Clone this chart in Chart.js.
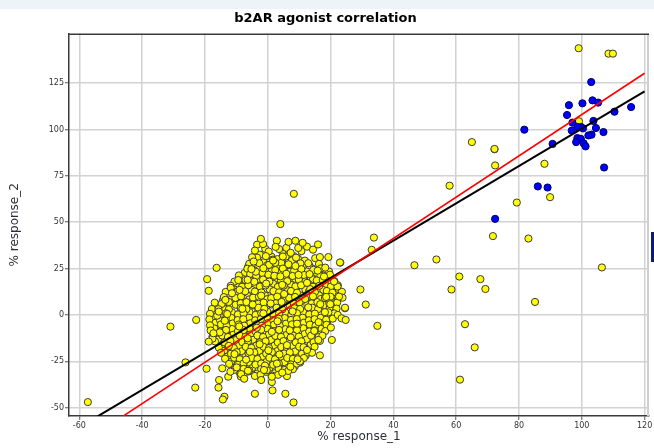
<!DOCTYPE html>
<html>
<head>
<meta charset="utf-8">
<script src="https://cdn.jsdelivr.net/npm/chart.js@4/dist/chart.umd.min.js"></script>
<style>
  html, body { margin: 0; padding: 0; background: #ffffff; }
  #wrap { position: relative; width: 654px; height: 448px; overflow: hidden; }
  #band { position: absolute; left: 0; top: 0; width: 654px; height: 9px; background: #eef3f9; }
  #sidebar { position: absolute; left: 651px; top: 232px; width: 3px; height: 30px; background: #0b1a72; }
  canvas { position: absolute; left: 0; top: 0; }
</style>
</head>
<body>
<div id="wrap">
  <div id="band"></div>
  <canvas id="c" width="654" height="448"></canvas>
  <div id="sidebar"></div>
</div>
<script>
// ---------- data ----------
const chartTitle = 'b2AR agonist correlation';
const xTitle = '% response_1';
const yTitle = '% response_2';
const xTicks = [-60, -40, -20, 0, 20, 40, 60, 80, 100, 120];
const yTicks = [-50, -25, 0, 25, 50, 75, 100, 125];
const xRange = [-63.3, 121.4];
const yRange = [-54.5, 151.7];

// regression lines (end points)
const blackLine = [[-54.2, -54.7], [120, 120.5]];
const redLine = [[-46.2, -54.7], [120, 130.3]];

// blue points (agonist reference set)
const bluePoints = [
  [103.0,125.6],[95.9,113.1],[100.2,114.1],[103.4,115.7],[105.2,114.5],[95.3,107.8],
  [115.7,112.1],[110.4,109.6],[97.0,103.7],[103.7,104.6],[99.8,101.3],[98.6,101.3],
  [96.8,99.4],[100.4,100.6],[104.5,100.8],[106.9,98.6],[103.1,97.2],[102.1,96.8],
  [98.6,95.4],[99.7,94.9],[98.2,93.2],[100.6,92.5],[101.2,90.9],[90.7,92.2],
  [81.7,99.9],[107.1,79.5],[86.0,69.3],[89.1,68.7],[72.4,51.8]
];

// red points
const redPoints = [[18.0,-6.3],[-5.3,-24.7],[-11.7,-9.0]];

// yellow points: dense cluster, first layer
const yellowCluster = [
  [-2.5,32.5],[1.2,31.4],[4.8,33.1],[8.2,31.8],
  [-4.6,29.2],[-1.3,28.4],[1.6,29.8],[4.5,28.9],[7.7,29.4],[10.4,28.1],
  [-6.2,26.3],[-3.1,25.6],[-0.2,26.8],[2.9,25.9],[5.7,26.6],[8.6,25.4],[11.3,26.2],[14.1,25.1],
  [-7.4,22.6],[-4.7,23.5],[-1.8,22.4],[1.3,23.6],[4.2,22.8],[7.1,23.3],[9.9,22.5],[12.8,23.8],[15.6,22.7],[17.2,21.6],
  [-8.3,19.8],[-5.6,20.7],[-2.9,19.4],[0.1,20.5],[3.0,19.6],[5.8,20.9],[8.7,19.5],[11.5,20.3],[14.4,19.2],[17.3,20.1],
  [-9.5,16.6],[-6.8,17.4],[-4.0,16.3],[-1.2,17.6],[1.7,16.8],[4.6,17.3],[7.4,16.2],[10.2,17.5],[13.1,16.5],[15.9,17.7],[18.6,16.4],[20.3,17.2],
  [-10.6,13.7],[-7.9,14.5],[-5.1,13.5],[-2.3,14.6],[0.6,13.8],[3.5,14.4],[6.3,13.3],[9.1,14.7],[12.0,13.6],[14.8,14.2],[17.7,13.4],[20.4,14.5],[22.0,13.2],
  [-12.2,10.8],[-9.4,11.6],[-6.6,10.6],[-3.8,11.4],[-0.9,10.5],[2.0,11.7],[4.9,10.7],[7.7,11.5],[10.6,10.4],[13.4,11.3],[16.3,10.6],[19.1,11.6],[21.8,10.5],
  [-14.3,7.7],[-11.5,8.6],[-8.7,7.5],[-5.9,8.4],[-3.1,7.6],[-0.2,8.5],[2.7,7.4],[5.5,8.7],[8.4,7.8],[11.2,8.3],[14.1,7.3],[16.9,8.6],[19.7,7.6],[22.3,8.4],
  [-15.8,5.3],[-13.0,4.6],[-10.2,5.5],[-7.4,4.4],[-4.5,5.2],[-1.7,4.7],[1.2,5.6],[4.0,4.5],[6.9,5.4],[9.7,4.3],[12.6,5.5],[15.4,4.6],[18.2,5.3],[20.8,4.4],
  [-16.9,1.6],[-14.2,2.5],[-11.4,1.4],[-8.6,2.3],[-5.8,1.5],[-3.0,2.6],[-0.1,1.7],[2.8,2.4],[5.6,1.3],[8.5,2.5],[11.3,1.6],[14.2,2.7],[17.0,1.5],[19.6,2.3],
  [-17.2,-1.4],[-14.4,-0.6],[-11.6,-1.6],[-8.8,-0.7],[-6.0,-1.5],[-3.2,-0.5],[-0.3,-1.3],[2.6,-0.4],[5.4,-1.7],[8.3,-0.8],[11.1,-1.5],[14.0,-0.5],[16.8,-1.6],[19.4,-0.7],
  [-16.8,-4.3],[-14.0,-3.5],[-11.2,-4.6],[-8.4,-3.7],[-5.6,-4.5],[-2.8,-3.4],[0.1,-4.4],[3.0,-3.6],[5.8,-4.7],[8.7,-3.8],[11.5,-4.2],[14.4,-3.3],[17.1,-4.5],[18.9,-3.6],
  [-17.0,-7.3],[-14.2,-6.5],[-11.4,-7.6],[-8.6,-6.7],[-5.8,-7.4],[-3.0,-6.4],[-0.1,-7.5],[2.8,-6.6],[5.6,-7.7],[8.5,-6.8],[11.3,-7.2],[14.2,-6.3],[16.9,-7.5],
  [-16.6,-10.4],[-13.8,-9.6],[-11.0,-10.7],[-8.2,-9.7],[-5.4,-10.5],[-2.6,-9.5],[0.3,-10.6],[3.2,-9.7],[6.0,-10.8],[8.9,-9.9],[11.7,-10.3],[14.6,-9.4],[16.8,-10.6],
  [-15.9,-13.3],[-13.1,-12.5],[-10.3,-13.6],[-7.5,-12.7],[-4.7,-13.4],[-1.9,-12.4],[1.0,-13.5],[3.9,-12.6],[6.7,-13.7],[9.6,-12.8],[12.4,-13.2],[15.3,-12.4],
  [-14.8,-16.4],[-12.0,-15.6],[-9.2,-16.7],[-6.4,-15.7],[-3.6,-16.5],[-0.8,-15.5],[2.1,-16.6],[5.0,-15.7],[7.8,-16.8],[10.7,-15.9],[13.6,-16.3],
  [-13.9,-19.3],[-11.1,-18.5],[-8.3,-19.6],[-5.5,-18.7],[-2.7,-19.4],[0.1,-18.4],[3.0,-19.5],[5.9,-18.6],[8.7,-19.7],[11.6,-18.8],[13.2,-19.9],
  [-12.8,-22.4],[-10.0,-21.6],[-7.2,-22.7],[-4.4,-21.7],[-1.6,-22.5],[1.3,-21.5],[4.2,-22.6],[7.0,-21.7],[9.9,-22.8],[12.1,-21.9],
  [-11.7,-25.3],[-8.9,-24.5],[-6.1,-25.6],[-3.3,-24.7],[-0.5,-25.4],[2.4,-24.4],[5.3,-25.5],[8.1,-24.6],[10.3,-25.7],
  [-10.6,-28.4],[-7.8,-27.6],[-5.0,-28.7],[-2.2,-27.7],[0.6,-28.5],[3.5,-27.5],[6.4,-28.6],[8.6,-27.8],
  [-8.9,-31.3],[-6.1,-30.5],[-3.3,-31.6],[-0.5,-30.7],[2.3,-31.4],[5.1,-30.6]
];

// yellow points: dense cluster, second layer
const yellowClusterB = [
  [-0.8,35.6],[5.9,36.2],[10.7,34.4],[-3.4,37.9],[12.5,36.8],[0.3,34.2],[3.6,35.5],[-1.5,38.2],[9.7,36.1],[14.4,35.2],[11.1,38.9],
  [-3.4,30.9],[-0.6,31.7],[3.1,30.1],[5.7,31.5],[9.6,30.4],[11.8,29.3],[15.1,30.6],
  [-5.9,27.6],[-2.7,27.9],[0.4,27.0],[4.3,28.1],[6.6,27.3],[10.4,27.8],[13.2,26.8],[16.3,27.5],
  [-6.5,24.9],[-4.3,24.0],[-1.4,25.2],[2.4,24.2],[4.8,25.0],[8.4,23.9],[10.7,24.7],[14.5,24.3],[16.9,25.1],[19.5,23.4],
  [-9.2,21.3],[-5.6,22.1],[-3.7,21.0],[0.2,21.7],[2.1,21.1],[5.9,22.2],[7.9,21.0],[11.6,21.5],[13.3,22.0],[16.8,21.2],[19.8,21.7],
  [-10.6,18.0],[-7.1,18.8],[-5.3,18.3],[-1.5,19.1],[0.5,18.0],[4.2,18.7],[6.2,18.2],[9.9,18.9],[12.0,18.0],[15.6,18.6],[17.5,18.9],[21.2,18.2],
  [-11.8,15.7],[-8.2,15.2],[-6.2,16.0],[-2.5,15.3],[-0.7,15.9],[3.2,15.1],[5.1,15.8],[8.8,15.4],[10.6,16.0],[14.4,15.2],[16.4,15.7],[20.1,15.3],[22.3,16.0],
  [-13.4,12.4],[-9.6,12.8],[-7.8,12.0],[-4.1,12.6],[-2.0,12.1],[1.8,12.8],[3.6,12.2],[7.4,12.9],[9.3,12.0],[13.1,12.6],[15.0,12.3],[18.8,12.9],[20.6,12.0],[23.6,12.5],
  [-14.0,9.6],[-10.3,9.2],[-8.5,10.0],[-4.7,9.3],[-2.8,9.8],[1.1,9.1],[3.0,9.9],[6.8,9.2],[8.7,9.7],[12.5,9.4],[14.4,10.0],[18.2,9.1],[20.0,9.8],[23.8,9.3],
  [-16.9,6.6],[-14.1,6.0],[-12.4,7.0],[-8.6,6.3],[-6.8,6.9],[-3.0,6.0],[-1.3,6.7],[2.6,6.3],[4.4,7.0],[8.3,6.1],[10.1,6.8],[14.0,6.2],[15.8,6.9],[19.6,6.3],[22.1,6.7],
  [-17.8,3.2],[-14.2,3.8],[-12.4,3.0],[-8.6,3.7],[-6.8,3.1],[-3.0,3.9],[-1.1,3.3],[2.8,3.9],[4.6,3.0],[8.5,3.6],[10.3,3.2],[14.2,3.9],[16.0,3.1],[19.7,3.7],[21.9,3.4],
  [-18.4,0.6],[-15.1,0.1],[-13.3,0.9],[-9.5,0.3],[-7.7,0.8],[-3.9,0.0],[-2.1,0.9],[1.8,0.4],[3.6,0.8],[7.5,0.1],[9.3,0.9],[13.2,0.3],[15.0,0.7],[18.8,0.0],[21.1,0.8],
  [-18.6,-2.4],[-15.2,-2.9],[-13.4,-2.1],[-9.6,-2.8],[-7.8,-2.3],[-4.0,-2.9],[-2.2,-2.2],[1.7,-2.8],[3.5,-2.1],[7.4,-2.7],[9.2,-2.2],[13.1,-2.9],[14.9,-2.3],[18.6,-2.6],[20.7,-2.0],
  [-18.4,-5.6],[-14.9,-5.1],[-13.1,-5.9],[-9.3,-5.2],[-7.5,-5.8],[-3.7,-5.1],[-1.9,-5.9],[2.0,-5.2],[3.8,-5.8],[7.7,-5.1],[9.5,-5.7],[13.4,-5.2],[15.2,-5.9],[18.7,-5.3],
  [-18.2,-8.4],[-15.1,-8.9],[-13.3,-8.1],[-9.5,-8.8],[-7.7,-8.2],[-3.9,-8.9],[-2.1,-8.0],[1.8,-8.7],[3.6,-8.1],[7.5,-8.8],[9.3,-8.2],[13.2,-8.9],[15.0,-8.3],[18.3,-8.7],
  [-17.6,-11.6],[-14.5,-11.1],[-12.7,-11.9],[-8.9,-11.2],[-7.1,-11.8],[-3.3,-11.1],[-1.5,-11.9],[2.4,-11.3],[4.2,-11.8],[8.1,-11.1],[9.9,-11.7],[13.8,-11.2],[16.2,-11.9],
  [-16.8,-14.3],[-13.7,-14.9],[-11.9,-14.0],[-8.1,-14.7],[-6.3,-14.1],[-2.5,-14.8],[-0.7,-14.2],[3.2,-14.9],[5.0,-14.1],[8.9,-14.8],[10.7,-14.2],[14.6,-14.7],[16.6,-14.0],
  [-15.6,-17.6],[-12.6,-17.1],[-10.8,-17.9],[-7.0,-17.2],[-5.2,-17.8],[-1.4,-17.1],[0.4,-17.9],[4.3,-17.3],[6.1,-17.8],[10.0,-17.1],[11.8,-17.7],[14.9,-17.2],
  [-14.9,-20.4],[-11.7,-20.9],[-9.9,-20.1],[-6.1,-20.8],[-4.3,-20.2],[-0.5,-20.9],[1.3,-20.1],[5.2,-20.8],[7.0,-20.2],[10.9,-20.9],[12.7,-20.3],
  [-13.6,-23.6],[-10.7,-23.1],[-8.9,-23.9],[-5.1,-23.2],[-3.3,-23.8],[0.5,-23.1],[2.3,-23.9],[6.2,-23.2],[8.0,-23.7],[11.5,-23.2],
  [-12.3,-26.4],[-9.5,-26.9],[-7.7,-26.1],[-3.9,-26.8],[-2.1,-26.2],[1.7,-26.9],[3.5,-26.1],[7.4,-26.7],[9.2,-26.3],
  [-10.6,-29.6],[-7.7,-29.1],[-5.9,-29.9],[-2.1,-29.2],[-0.3,-29.8],[3.5,-29.1],[5.3,-29.7],[8.0,-29.3],
  [-7.7,-32.4],[-4.1,-32.9],[-2.3,-32.2],[1.5,-32.8],[3.3,-32.3],[6.1,-33.0]
];

// yellow points: dense cluster, irregular top layer
const yellowClusterC = [
  [3.7,-21.3],[-9.1,-6.2],[12.9,4.1],[-4.3,17.9],[7.3,-12.1],[-13.7,-3.1],[0.9,6.2],[16.2,-3.9],
  [-6.9,-24.1],[9.8,21.6],[-2.6,-15.8],[5.2,11.3],[-15.3,-9.4],[18.6,9.7],[-0.9,-27.3],[11.4,-17.4],
  [-8.1,3.3],[2.4,28.1],[14.8,-8.6],[-5.7,-19.9],[7.9,1.9],[-11.8,14.6],[1.3,-9.1],[-3.8,23.3],
  [10.2,-25.1],[-16.1,-0.4],[4.6,16.2],[-9.9,-28.3],[13.5,13.9],[-1.4,0.8],[6.5,-30.2],[-12.4,-16.7],
  [20.1,-6.8],[-7.2,12.7],[3.1,-3.4],[8.8,26.4],[-14.7,5.9],[-3.5,-6.9],[15.9,23.9],[0.2,-19.1],
  [-10.6,-21.1],[11.9,8.6],[-5.0,31.1],[6.1,-16.3],[-17.6,-12.8],[17.4,-11.2],[-2.1,10.4],[9.3,-4.7],
  [-8.6,-33.2],[4.0,20.8],[-12.9,0.5],[14.1,-20.4],[-0.5,16.9],[7.0,-8.3],[-6.4,-12.6],[19.3,1.4],
  [2.9,-26.2],[-4.8,5.6],[12.5,17.3],[-9.4,18.8]
];

// yellow points: scattered around cluster and outliers
const yellowScatter = [
  [8.3,65.3],[4.0,49.0],[-2.2,41.0],[-4.1,34.7],[2.9,40.0],[6.6,39.4],[8.8,40.0],[2.5,36.7],
  [16.0,38.0],[4.8,31.5],[7.3,33.5],[16.6,31.2],[19.3,31.2],[23.1,28.2],[18.3,25.5],[1.7,29.3],
  [9.0,30.9],[12.9,27.9],
  [-16.3,25.4],[-19.3,19.3],[-18.8,13.0],[-13.5,8.1],[-11.4,11.7],[-9.0,13.5],[-15.7,3.1],
  [-6.4,18.9],[-5.2,24.7],[-4.5,28.8],
  [-31.0,-6.3],[-22.8,-2.7],[-26.2,-25.6],[-23.1,-39.2],[-19.5,-29.0],[-18.8,-14.4],[-17.3,-9.9],
  [-15.6,1.8],[-14.5,-28.8],[-15.5,-35.1],[-15.7,-39.2],[-13.8,-44.1],[-14.3,-45.6],[-12.6,-33.3],
  [-11.9,-30.6],[-8.5,-31.9],[-7.5,-34.4],[-6.3,-30.1],[-57.3,-47.0],
  [-4.1,-42.5],[1.5,-40.7],[5.6,-42.5],[8.2,-47.2],[-2.1,-35.1],[1.3,-36.2],[1.3,-33.3],[4.6,-31.1],
  [-1.2,-29.7],[7.2,-27.9],[9.5,-23.9],[12.5,-18.9],[16.6,-21.8],[20.4,-13.5],[16.1,-13.5],
  [24.6,3.6],[22.3,0.0],[23.5,-1.8],[24.8,-2.7],[19.9,5.8],[18.2,1.5],[16.7,5.8],
  [33.8,41.7],[33.1,35.1],[29.5,13.7],[31.2,5.6],[34.9,-5.9],[23.0,28.3],[22.2,15.3],[22.7,9.9],
  [24.6,3.9],[21.1,18.0],[17.9,20.7],
  [65.0,93.2],[72.2,89.3],[72.4,80.6],[88.1,81.5],[57.9,69.7],[79.3,60.6],[89.9,63.5],
  [71.7,42.5],[83.0,41.2],[46.7,26.8],[53.7,29.9],[106.4,25.6],[61.0,20.7],[67.7,19.3],
  [58.5,13.7],[69.3,14.0],[85.1,7.0],[62.8,-5.0],[65.9,-17.5],[61.2,-34.9],
  [99.0,143.8],[108.5,140.9],[109.9,140.9],[99.1,104.4],[72.2,89.5]
];

// ---------- chart ----------
const toXY = arr => arr.map(p => ({x: p[0], y: p[1]}));
const FONT = '"DejaVu Sans", "Liberation Sans", sans-serif';

const framePlugin = {
  id: 'frame',
  afterDatasetsDraw(chart) {
    const {ctx, chartArea: a} = chart;
    ctx.save();
    ctx.strokeStyle = '#cfcfcf';
    ctx.lineWidth = 2;
    ctx.beginPath(); ctx.moveTo(a.right - 1, a.top); ctx.lineTo(a.right - 1, a.bottom); ctx.stroke();
    ctx.strokeStyle = '#3a3a3a';
    ctx.lineWidth = 1.5;
    ctx.beginPath(); ctx.moveTo(a.left, a.top + 0.75); ctx.lineTo(a.right, a.top + 0.75); ctx.stroke();
    ctx.restore();
  }
};

new Chart(document.getElementById('c'), {
  type: 'scatter',
  data: {
    datasets: [
      { label: 'fit', data: toXY(redLine), showLine: true, borderColor: '#ff0000', borderWidth: 1.6,
        pointRadius: 0, order: 0 },
      { label: 'identity', data: toXY(blackLine), showLine: true, borderColor: '#000000', borderWidth: 2,
        pointRadius: 0, order: 1 },
      { label: 'reference', data: toXY(bluePoints), backgroundColor: '#0000ff', borderColor: '#00005a',
        borderWidth: 1, pointRadius: 3.6, order: 2 },
      { label: 'outliers', data: toXY(yellowScatter), backgroundColor: '#ffff00', borderColor: '#3a3a3a',
        borderWidth: 1, pointRadius: 3.6, order: 3 },
      { label: 'compounds', data: toXY(yellowCluster.concat(yellowClusterB, yellowClusterC)),
        backgroundColor: '#ffff00', borderColor: '#3a3a3a', borderWidth: 1, pointRadius: 3.6, order: 4 },
      { label: 'flagged', data: toXY(redPoints), backgroundColor: '#ff0000', borderColor: '#5a0000',
        borderWidth: 1, pointRadius: 3.6, order: 5 }
    ]
  },
  options: {
    responsive: false,
    animation: false,
    devicePixelRatio: 1,
    layout: { padding: { left: 0, right: 3, top: 0, bottom: 0 } },
    plugins: {
      legend: { display: false },
      tooltip: { enabled: false },
      title: {
        display: true, text: chartTitle, color: '#000000',
        font: { family: FONT, size: 13, weight: 'bold', lineHeight: 1.2 },
        padding: { top: 11, bottom: 7 }
      }
    },
    scales: {
      x: {
        type: 'linear', min: xRange[0], max: xRange[1],
        afterBuildTicks: s => { s.ticks = xTicks.map(v => ({value: v})); },
        afterFit: s => { s.height = 32; },
        ticks: { color: '#333333', font: { family: FONT, size: 8 }, padding: 1, maxRotation: 0 },
        grid: { color: '#d2d2d2', lineWidth: 1.5, tickColor: '#555555', tickLength: 4, tickWidth: 1 },
        border: { color: '#3a3a3a', width: 1.5 },
        title: { display: true, text: xTitle, color: '#2e2e3a',
          font: { family: FONT, size: 12 }, padding: { top: 0, bottom: 4 } }
      },
      y: {
        type: 'linear', min: yRange[0], max: yRange[1],
        afterBuildTicks: s => { s.ticks = yTicks.map(v => ({value: v})); },
        afterFit: s => { s.width = 69; },
        ticks: { color: '#333333', font: { family: FONT, size: 8 }, padding: 1 },
        grid: { color: '#d2d2d2', lineWidth: 1.5, tickColor: '#555555', tickLength: 4, tickWidth: 1 },
        border: { color: '#3a3a3a', width: 1.5 },
        title: { display: true, text: yTitle, color: '#2e2e3a',
          font: { family: FONT, size: 12 }, padding: { top: 8, bottom: 0 } }
      }
    }
  },
  plugins: [framePlugin]
});
</script>
</body>
</html>
